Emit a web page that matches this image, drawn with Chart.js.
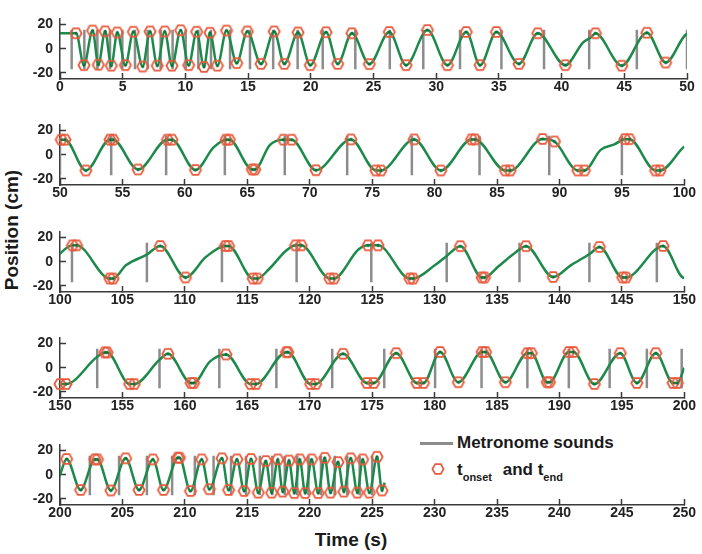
<!DOCTYPE html>
<html lang="en">
<head>
<meta charset="UTF-8">
<title>Position vs time with metronome sounds</title>
<script src="https://cdn.jsdelivr.net/npm/chart.js@4.4.1/dist/chart.umd.min.js"></script>
<style>
    html, body { margin: 0; padding: 0; background: #fff; }
    body { width: 702px; height: 554px; position: relative; overflow: hidden; font-family: 'Liberation Sans', Arial, sans-serif; color: #1a1a1a; }
    .panel { position: absolute; left: 0; width: 702px; height: 104px; }
    .ylabel { position: absolute; left: 12px; top: 230px; transform: translate(-50%, -50%) rotate(-90deg); font-weight: bold; font-size: 19px; white-space: nowrap; }
    .xlabel { position: absolute; left: 351px; top: 540px; transform: translate(-50%, -50%); font-weight: bold; font-size: 19px; white-space: nowrap; }
    .lg-line { position: absolute; left: 420px; top: 442px; width: 33px; height: 2.5px; background: #8c8c8c; }
    .lg-text { position: absolute; left: 457px; font-weight: bold; font-size: 17px; line-height: 20px; white-space: nowrap; }
    .lg-text sub { font-size: 11px; vertical-align: -6px; line-height: 0; margin-right: 6px; }
    .lg-hex { position: absolute; left: 431px; top: 462px; }
</style>
</head>
<body>
<div class="ylabel">Position (cm)</div>
<div class="xlabel">Time (s)</div>
<div class="lg-line"></div>
<div class="lg-text" style="top: 433px;">Metronome sounds</div>
<svg class="lg-hex" width="14" height="14"><polygon points="12.6,7 9.8,11.85 4.2,11.85 1.4,7 4.2,2.15 9.8,2.15" fill="none" stroke="#e85a3c" stroke-width="1.7"/></svg>
<div class="lg-text" style="top: 460px;">t<sub>onset</sub> and t<sub>end</sub></div>

<script>
    // panels: each shows 50 s of the trace
    const panelStarts = [0, 50, 100, 150, 200];
    const panelSpan = 50;
    const xTickStep = 5;
    const yTicks = [-20, 0, 20];
    const yRange = [-25, 25];
    const metronomeSpan = [-17, 15.7];

    const metronomeTimes = [
        0.93, 1.94, 2.98, 3.99, 4.97, 5.98, 6.99, 8.03, 8.98, 10.02, 11.03, 12.04, 13.56, 15.15, 17.0, 18.95, 20.95, 23.55, 26.3, 28.97, 31.9, 35.2, 38.6, 42.2, 46.0, 50.0,
        54.1, 58.5, 63.2, 68.0, 73.0, 78.18, 83.6, 89.18, 95.0,
        100.96, 106.96, 112.97, 118.95, 124.93, 130.97, 136.8, 142.4, 147.8,
        152.98, 157.97, 162.76, 167.33, 171.8, 175.97, 180.04, 183.76, 187.43, 190.75, 194.02, 197.0, 199.79,
        202.39, 204.73, 206.96, 208.98, 210.8, 212.3, 213.7, 214.9, 216.0, 217.0, 218.0, 219.0, 219.9, 220.9, 222.0, 223.0, 224.0, 225.0
    ];

    // t_onset / t_end markers (turning points of the movement)
    const markerTimes = [
        1.28, 1.91, 2.6, 3.06, 3.6, 4.09, 4.57, 5.21, 5.85, 6.59, 7.18, 7.76, 8.35, 8.93, 9.62, 10.26, 10.9, 11.48, 11.96, 12.55,
        13.28, 14.09, 14.94, 16.03, 17.08, 17.89, 18.98, 19.96, 21.22, 22.14, 23.28, 24.67, 26.26, 27.6, 29.3, 30.9, 32.4, 33.5,
        34.8, 36.6, 38.1, 40.3, 42.7, 44.8, 46.8, 48.3,
        50.1, 50.4, 52.07, 54.0, 54.25, 56.25, 58.6, 58.96, 60.85, 63.3, 63.56, 65.4, 65.6, 67.9, 68.55, 70.5, 73.3, 75.3, 75.7,
        78.36, 80.5, 82.96, 83.23, 85.67, 86.05, 88.65, 89.6, 91.47, 92.0, 95.24, 95.6, 97.7, 98.06,
        101.0, 101.33, 103.99, 104.25, 108.03, 110.05, 113.24, 113.5, 115.47, 115.8, 118.87, 119.32, 121.61, 121.93, 124.67, 125.47,
        128.02, 128.28, 132.06, 133.8, 134.0, 137.32, 139.5, 143.2, 145.06, 145.32, 148.3,
        150.0, 150.48, 153.59, 153.77, 155.58, 155.95, 158.64, 160.5, 160.7, 163.29, 165.28, 165.68, 168.13, 168.24, 170.07, 170.47,
        172.67, 174.59, 175.12, 176.93, 178.58, 179.11, 180.44, 181.9, 183.81, 184.08, 185.67, 187.43, 187.75, 189.02, 189.2,
        190.75, 191.12, 192.8, 194.87, 196.2, 197.72, 199.1, 199.44,
        200.53, 201.65, 202.79, 203.0, 204.07, 205.26, 206.33, 207.44, 208.29, 209.44, 209.57, 210.45, 211.35, 211.96, 212.97,
        213.5, 214.17, 214.75, 215.3, 215.88, 216.48, 216.95, 217.44, 217.84, 218.34, 218.77, 219.2, 219.64, 220.15, 220.68,
        221.2, 221.66, 222.26, 222.73, 223.28, 223.82, 224.24, 224.78, 225.39, 225.79
    ];
    const markerValues = [
        12.7, -13.6, 15, -13.2, 14.3, -14, 13.4, -13.6, 14, -14.7, 14.2, -14, 14.2, -14, 15.2, -13.6, 14, -15, 13.2, -14,
        15, -11.9, 14.2, -12.5, 14.2, -12.5, 13.4, -13.6, 13.6, -12.5, 12.7, -12.7, 13.8, -13.6, 15.4, -13.6, 13.8, -13.6,
        13.8, -12.5, 12.7, -13.6, 12.7, -14, 13.2, -11.4,
        12.4, 12.4, -13, 12.4, 12.4, -12.2, 12.4, 12.4, -12.6, 12.4, 12.4, -12.2, -12.2, 12.4, 12.4, -12.8, 12.6, -13, -13,
        12.6, -13, 12.6, 12.6, -13, -13, 13, 10.9, -13, -13, 12.8, 12.8, -13, -13,
        13.5, 13.5, -13.9, -13.9, 13, -13, 13, 13, -13.9, -13.9, 13.5, 13.5, -13.9, -13.9, 13.5, 13.5,
        -13.9, -13.9, 12.8, -13, -13, 12.8, -12.6, 12.2, -13, -13, 13,
        -13.5, -13.5, 12.6, 12.6, -13.5, -13.5, 11.5, -12.6, -12.6, 10.9, -13.5, -13.5, 12.8, 12.8, -13.5, -13.5,
        11.5, -12.6, -12.6, 12, -12.6, -12.6, 13, -12, 13, 13, -12, 12, 12, -12, -12,
        13, 13, -13.5, 12, -12.6, 12, -12.6, -12.6,
        13, -12.6, 12.6, 12.6, -13, 13.5, -12.6, 12.6, -12.6, 14, 14, -13.5, 12.6, -12, 13.5,
        -12.6, 12.6, -13.5, 13, -14.8, 11.3, -14.8, 12.6, -14, 11.7, -15.2, 12.6, -15.2, 12.6, -15.2,
        13.9, -14.8, 10.4, -14, 13.5, -14.8, 12.6, -14.8, 14.8, -13
    ];

    // extra points of the trace between turning points (shoulders, start, end)
    const shapeTimes = [0, 41.7, 42.35, 62.3, 66.8, 93.3, 94.4, 100.0, 105.3, 106.96, 111.7, 116.75, 118.1, 123.9,
        130.04, 130.97, 135.1, 136.4, 140.9, 142.5, 152.98, 157.97, 162.0, 200.0, 226.0];
    const shapeValues = [12.7, 5, 9.5, 6, 8, 4, 8.5, 6.8, -2.8, 5.9, 4, -6, 9, 10,
        -2.8, 4.8, -4, 7, -3, 7, 9, 6.5, 5, 0, -6.5];

    const plotTops = [1, 107, 214, 320, 427];
    const fontFamily = "'Liberation Sans', Arial, sans-serif";

    const markerPoints = markerTimes.map((t, i) => ({ x: t, y: markerValues[i] }));
    const positionPoints = markerPoints.concat(shapeTimes.map((t, i) => ({ x: t, y: shapeValues[i] })))
        .sort((a, b) => a.x - b.x);
    const metronomePoints = metronomeTimes.flatMap(t => [
        { x: t, y: metronomeSpan[0] }, { x: t, y: metronomeSpan[1] }, { x: t, y: null }
    ]);

    // hexagon marker with the trace dot in its centre
    const hexImg = document.createElement('canvas');
    hexImg.width = 16; hexImg.height = 16;
    const hc = hexImg.getContext('2d');
    hc.beginPath();
    for (let k = 0; k < 6; k++) {
        const a = Math.PI / 3 * k;
        hc.lineTo(8 + 5.6 * Math.cos(a), 8 + 5.6 * Math.sin(a));
    }
    hc.closePath();
    hc.strokeStyle = '#e85a3c';
    hc.lineWidth = 1.8;
    hc.stroke();
    hc.beginPath();
    hc.arc(8, 8, 1.5, 0, 2 * Math.PI);
    hc.fillStyle = '#0f6e37';
    hc.fill();

    const axisColor = '#3a3a3a';
    const tickFont = { family: fontFamily, size: 14, weight: 'bold' };

    function makePanel(i) {
        const start = panelStarts[i], end = start + panelSpan;
        const box = document.createElement('div');
        box.className = 'panel';
        box.style.top = (plotTops[i] - 4) + 'px';
        const canvas = document.createElement('canvas');
        box.appendChild(canvas);
        document.body.appendChild(box);

        const xTicks = [];
        for (let v = start; v <= end; v += xTickStep) xTicks.push({ value: v });

        new Chart(canvas, {
            type: 'line',
            data: {
                datasets: [
                    { label: 'tonset and tend', data: markerPoints.filter(p => p.x >= start && p.x < end),
                      showLine: false, pointStyle: hexImg, pointRadius: 6, clip: false },
                    { label: 'Position', data: positionPoints, borderColor: '#1d8a4b', borderWidth: 2.5,
                      pointRadius: 0, cubicInterpolationMode: 'monotone' },
                    { label: 'Metronome sounds', data: metronomePoints, borderColor: '#8c8c8c', borderWidth: 2.5,
                      pointRadius: 0, spanGaps: false }
                ]
            },
            options: {
                responsive: true,
                maintainAspectRatio: false,
                animation: false,
                layout: { padding: { top: 4, right: 15, left: 0, bottom: 0 } },
                plugins: { legend: { display: false }, tooltip: { enabled: false } },
                scales: {
                    x: {
                        type: 'linear', min: start, max: end,
                        afterBuildTicks: s => { s.ticks = xTicks; },
                        afterFit: s => { s.height = 22; },
                        grid: { drawOnChartArea: false, tickLength: -6, tickColor: axisColor, tickWidth: 1.5 },
                        border: { color: axisColor, width: 1.5 },
                        ticks: { padding: 6, color: '#222', font: tickFont, maxRotation: 0, autoSkip: false }
                    },
                    y: {
                        min: yRange[0], max: yRange[1],
                        afterBuildTicks: s => { s.ticks = yTicks.map(v => ({ value: v })); },
                        afterFit: s => { s.width = 60; },
                        grid: { drawOnChartArea: false, tickLength: -6, tickColor: axisColor, tickWidth: 1.5 },
                        border: { color: axisColor, width: 1.5 },
                        ticks: { padding: 13, color: '#222', font: tickFont }
                    }
                }
            }
        });
    }

    panelStarts.forEach((s, i) => makePanel(i));
</script>
</body>
</html>
